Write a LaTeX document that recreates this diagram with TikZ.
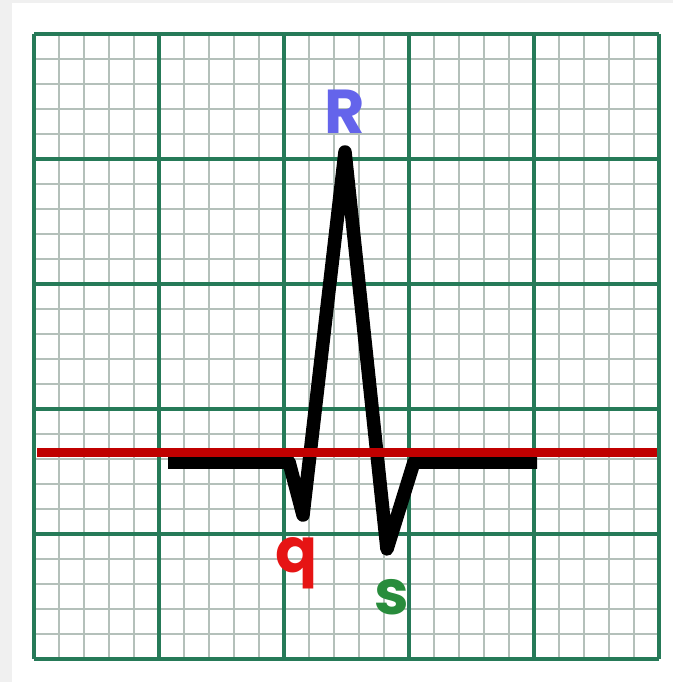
\documentclass[tikz,border=0pt]{standalone}
\usepackage{fontspec}
\setmainfont{Poppins}
\definecolor{bggray}{RGB}{240,240,240}
\definecolor{majorgreen}{RGB}{38,122,88}
\definecolor{minorgray}{RGB}{180,192,186}
\definecolor{ecgred}{RGB}{192,0,0}
\definecolor{rblue}{RGB}{100,100,235}
\definecolor{qred}{RGB}{230,20,20}
\definecolor{sgreen}{RGB}{40,140,60}
\tikzset{
  minorline/.style={draw=minorgray,line width=1.6pt},
  majorline/.style={draw=majorgreen,line width=3.4pt},
  trace/.style={draw=black,line width=13.5pt,line join=round,line cap=butt},
  baseline/.style={draw=ecgred,line width=9pt},
  wavelabel/.style={font=\fontsize{62}{62}\selectfont\bfseries,inner sep=0pt,anchor=base}
}
\begin{document}
\begin{tikzpicture}[x=1pt,y=-1pt]
\useasboundingbox (0,0) rectangle (673,682);
\fill[bggray] (0,0) rectangle (673,682);
\fill[white] (12,3) rectangle (673,682);
% minor grid
\foreach \i in {1,...,24}{
  \draw[minorline] ({34+25*\i},34) -- ({34+25*\i},659);
  \draw[minorline] (34,{34+25*\i}) -- (659,{34+25*\i});
}
% major grid
\foreach \i in {0,...,5}{
  \draw[majorline] ({34+125*\i},34) -- ({34+125*\i},659);
  \draw[majorline] (34,{34+125*\i}) -- (659,{34+125*\i});
}
% ECG trace
\coordinate (start) at (168,462);
\coordinate (qon) at (289,462);
\coordinate (qtip) at (303,515);
\coordinate (rtip) at (345,152);
\coordinate (stip) at (387,549);
\coordinate (soff) at (414,462);
\coordinate (stop) at (537,462);
\draw[trace] (start) -- (qon) -- (qtip) -- (rtip) -- (stip) -- (soff) -- (stop);
% red baseline
\coordinate (bl) at (37,452.5);
\coordinate (br) at (657,452.5);
\draw[baseline] (bl) -- (br);
% labels
\node[wavelabel,text=rblue] (R) at (345,133) {R};
\node[wavelabel,text=qred] (q) at (297,572) {q};
\node[wavelabel,text=sgreen] (s) at (392,614) {s};
\end{tikzpicture}
\end{document}
